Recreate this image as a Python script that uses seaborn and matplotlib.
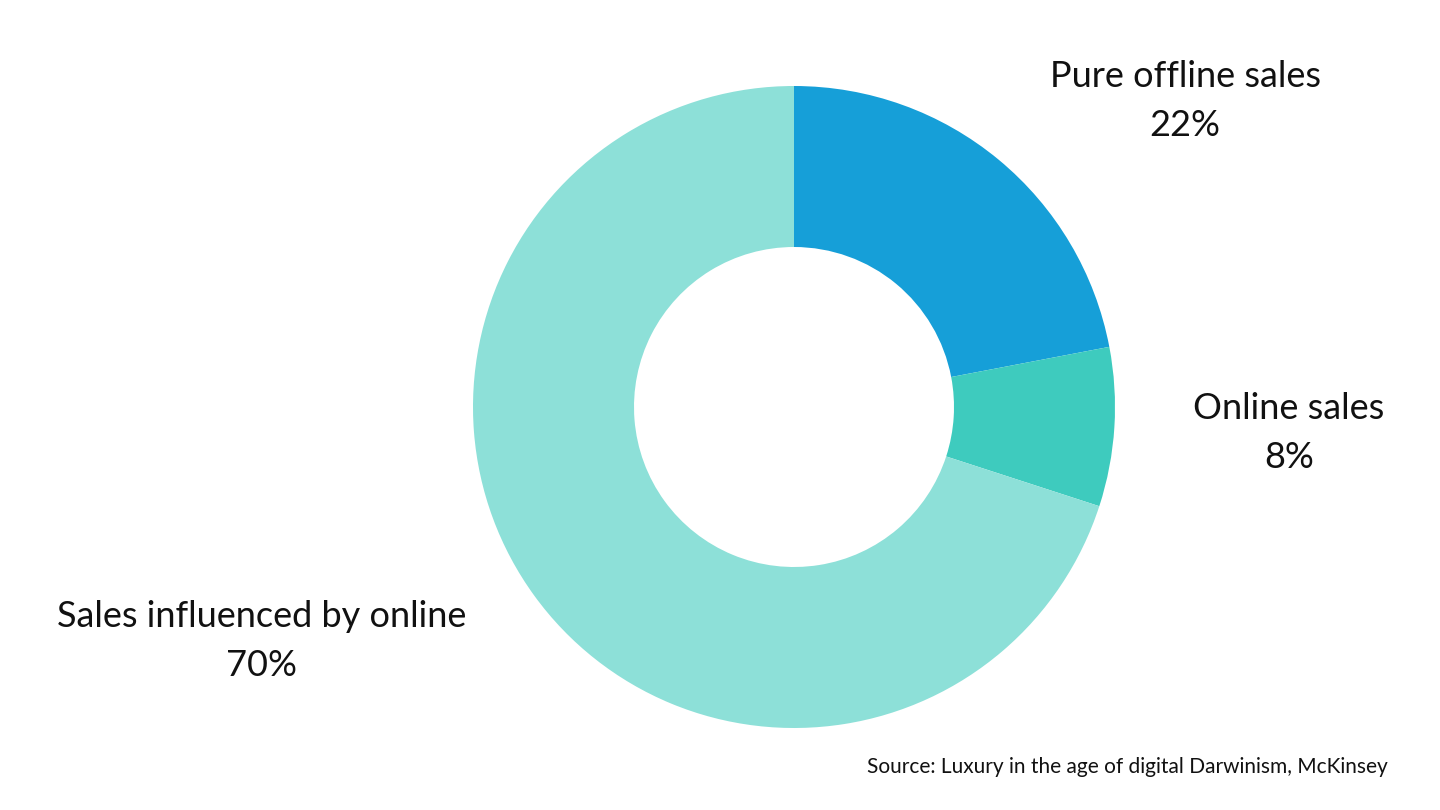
import matplotlib
matplotlib.use("Agg")
import matplotlib.pyplot as plt
import seaborn as sns

labels = ["Pure offline sales", "Online sales", "Sales influenced by online"]
shares = [22, 8, 70]
colors = ["#169FD8", "#3ECBBE", "#8DE0D8"]
source = "Source: Luxury in the age of digital Darwinism, McKinsey"

sns.set_theme(style="white")
plt.rcParams['font.family'] = ['Lato', 'DejaVu Sans']

fig = plt.figure(figsize=(14.4, 8.1), dpi=100)
ax = fig.add_axes([0, 0, 1, 1])

ax.pie(shares, colors=colors, startangle=90, counterclock=False,
       center=(794, 403), radius=321,
       wedgeprops=dict(width=161, edgecolor='none'))

# pie() resets the limits, so set them afterwards
ax.set_xlim(0, 1440)
ax.set_ylim(0, 810)
ax.set_aspect('equal')
ax.axis('off')

label_pos = [(1185, 709), (1289, 377), (262, 169)]
for (x, y), lab, v in zip(label_pos, labels, shares):
    ax.text(x, y, f"{lab}\n{v}%", ha='center', va='center', fontsize=26,
            linespacing=1.6, color='#111111')

ax.text(1388, 43, source, ha='right', va='center', fontsize=15,
        color='#111111')

fig.savefig("out.png", dpi=100, facecolor='white')
